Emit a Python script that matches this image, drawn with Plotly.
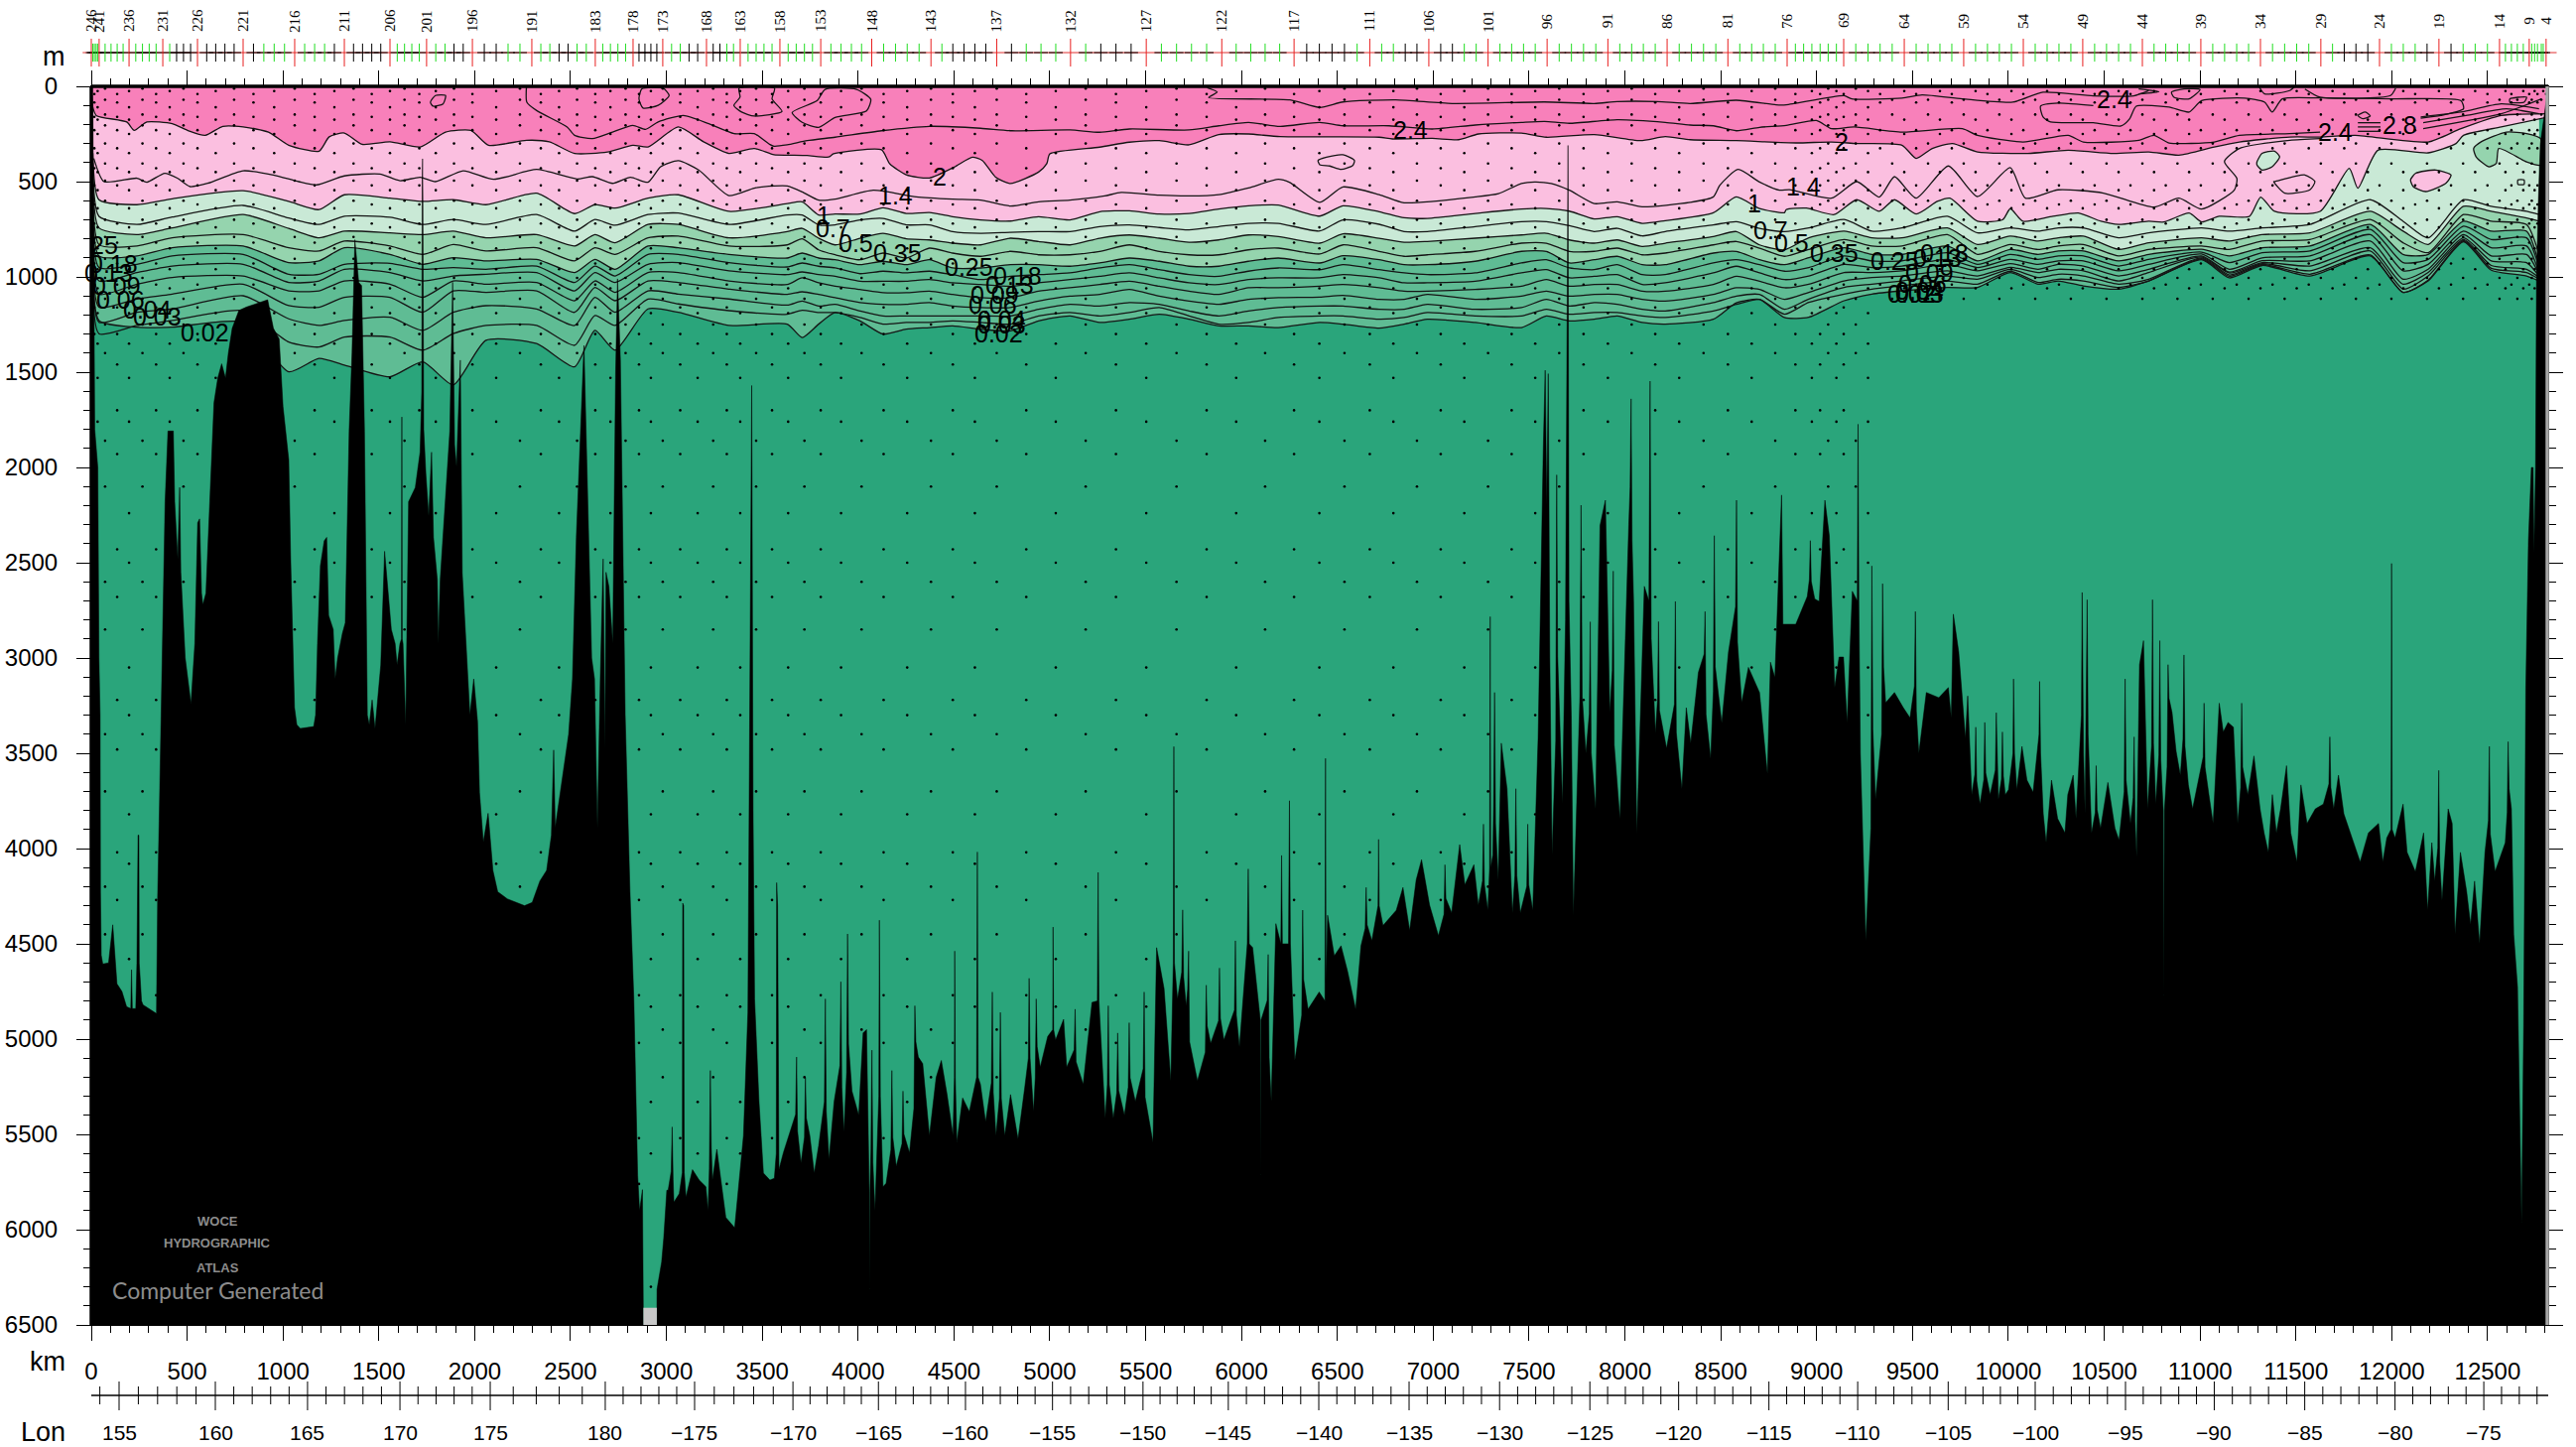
import numpy as np
import plotly.graph_objects as go

W, H = 2596, 1458
PX_L, PX_R, PX_T, PX_B = 92, 2568, 87, 1335
KM_MAX, DEPTH_MAX = 12816, 6500
PX_PER_KM = (PX_R - PX_L) / KM_MAX

C_BASE, C_DEEP, C_MID, C_PALE, C_LPINK, C_PINK = "#2AA57B", "#5FBC94", "#95D4AE", "#C9E9D6", "#FBBFE0", "#F880BA"
LINE_C = "#151515"

# ---------- bathymetry: (km, metres) ----------
BATHY_A = [(0,0),(8,100),(18,1800),(34,2000),(40,3000),(46,3300),(48,4230),(52,4560),(60,4606),(90,4600),(112,4400),(122,4560),(134,4710),(160,4750),(184,4830),(206,4840),(210,4636),(214,4840),(232,4840),(238,4600),(244,3930),(248,3930),(250,4600),(262,4800),(270,4820),(340,4866),(346,4260),(354,3855),(368,3070),(385,2180),(400,1809),(418,1809),(428,1809),(435,2180),(445,2400),(451,2480),(461,2105),(467,2550),(490,3000),(520,3240),(540,2925),(555,2290),(565,2270),(575,2660),(582,2720),(598,2660),(618,2180),(640,1660),(660,1530),(680,1456),(700,1530),(715,1400),(735,1270),(770,1176),(810,1158),(860,1140),(920,1120),(950,1270),(980,1325),(1000,1680),(1030,1960),(1040,2480),(1050,2925),(1060,3260),(1072,3350),(1090,3370),(1160,3360),(1170,3300),(1180,2925),(1195,2515),(1215,2385),(1228,2367),(1238,2776),(1262,2850),(1272,3110),(1285,3000),(1310,2870),(1325,2815),(1345,1809),(1360,1400),(1375,805),(1395,1028),(1410,1046),(1425,1809),(1440,3300),(1450,3350),(1465,3220),(1480,3370),(1490,3260),(1510,3037),(1530,2440),(1545,2630),(1565,2850),(1585,2925),(1595,3037),(1610,2925),(1618,2900),(1620,1735),(1622,2900),(1626,2925),(1640,3350),(1655,2180),(1690,2105),(1715,1920),(1724,1600),(1726,500),(1728,380),(1730,600),(1734,1800),(1745,2030),(1760,2255),(1775,1920),(1785,2367),(1805,2590),(1810,2925),(1820,2590),(1850,2105),(1870,1810),(1885,1028),(1895,1880),(1905,1995),(1925,1437),(1935,2553),(1955,2925),(1975,3300),(1995,3110),(2015,3335),(2025,3705),(2045,3965),(2070,3815),(2095,4115),(2120,4227),(2170,4264),(2260,4300),(2300,4283),(2340,4170),(2375,4115),(2400,3930),(2412,3483),(2420,3890),(2450,3670),(2490,3400),(2510,3110),(2530,2367),(2570,1360),(2590,2180),(2610,3000),(2625,3110),(2640,3890),(2655,3110),(2670,2480),(2680,3480),(2685,2550),(2700,2625),(2720,2925),(2735,1510),(2745,1010),(2760,1437),(2785,3300),(2810,4227),(2830,4785),(2850,5715),(2860,5900),(2875,5790),(2880,6500),(2950,6500),(2951,6313),(2975,6170),(2986,6044),(3002,5793)]
BATHY_B = [(3009,5793),(3030,5461),(3039,5856),(3067,5811),(3083,5700),(3085,4287),(3090,4300),(3093,5700),(3102,5829),(3136,5685),(3171,5740),(3206,5775),(3217,5900),(3229,5165),(3240,5740),(3263,5578),(3286,5740),(3310,5936),(3356,5990),(3379,5740),(3402,5506),(3425,4860),(3432,3800),(3445,1570),(3452,3800),(3460,4790),(3483,5327),(3506,5703),(3540,5740),(3563,5730),(3573,5600),(3575,4179),(3580,4300),(3587,5685),(3610,5596),(3633,5524),(3679,5094),(3702,5650),(3725,5201),(3748,5506),(3771,5703),(3794,5560),(3829,4789),(3848,5631),(3875,5327),(3910,4699),(3926,5488),(3945,4448),(3968,5273),(4003,5398),(4026,4968),(4044,4950),(4058,5800),(4060,6313),(4062,5800),(4072,5058),(4088,5900),(4108,5300),(4111,4376),(4116,5300),(4130,5775),(4146,5757),(4176,5165),(4199,5667),(4234,5273),(4268,5596),(4296,4825),(4314,5094),(4337,5129),(4372,5506),(4407,5201),(4434,5112),(4464,5291),(4495,5506),(4502,5200),(4504,4538),(4507,5200),(4515,5542),(4545,5309),(4580,5380),(4618,5200),(4622,4018),(4626,5200),(4638,5237),(4665,5434),(4700,4753),(4719,5506),(4742,4860),(4765,5506),(4795,5291),(4834,5524),(4869,5255),(4888,5100),(4892,4681),(4897,5100),(4915,5380),(4929,4789),(4950,5147),(4989,4986),(5015,4950),(5017,4412),(5020,4950),(5030,5004),(5072,4896),(5088,5147),(5132,4843),(5174,5237),(5220,4807),(5248,4800),(5252,4125),(5256,4800),(5289,5416),(5305,4825),(5331,5416),(5354,4968),(5389,5398),(5414,4914),(5446,5327),(5492,4753),(5538,5542),(5557,4520),(5596,4735),(5631,5219),(5644,4600),(5647,3465),(5650,4600),(5666,4789),(5693,4322),(5711,4825),(5724,4538),(5770,5219),(5816,4717),(5839,5022),(5885,4627),(5908,5004),(5968,4484),(5989,5040),(6030,4500),(6035,4107),(6040,4500),(6058,4520),(6098,4900),(6100,5721),(6102,4900),(6139,4556),(6155,5327),(6179,4394),(6205,4500),(6209,4036),(6213,4500),(6245,4500),(6250,3749),(6255,4500),(6278,5112),(6319,4323),(6347,4843),(6405,4753)]
BATHY_C = [(6435,4800),(6438,3527),(6441,4700),(6449,4350),(6484,4563),(6519,4510),(6553,4643),(6595,4842),(6623,4510),(6650,4204),(6680,4483),(6712,4300),(6715,3952),(6718,4300),(6738,4404),(6807,4324),(6842,4204),(6877,4430),(6911,4164),(6939,4058),(6981,4297),(7027,4457),(7061,4085),(7096,4337),(7138,3979),(7165,4190),(7212,4085),(7235,4297),(7262,3872),(7285,4324),(7294,4100),(7297,2783),(7300,4100),(7311,4032),(7320,3181),(7339,4164),(7355,3447),(7385,3686),(7413,4337),(7431,3686),(7454,4337),(7493,3872),(7519,4324),(7547,3421),(7574,1900),(7584,1490),(7592,2200),(7600,1508),(7608,3000),(7620,4032),(7644,2039),(7664,3400),(7674,3766),(7690,2800),(7703,310),(7708,2700),(7720,3300),(7731,4350),(7765,3200),(7771,2198),(7777,3200),(7796,3500),(7819,2810),(7847,3792),(7870,2305),(7898,2172),(7921,3288),(7939,2544),(7974,3846),(8020,2300),(8032,1640),(8045,2700),(8062,3925),(8101,2624),(8125,2700),(8131,1547),(8137,2900),(8159,3394),(8175,2809),(8217,3474),(8263,2703),(8297,3686),(8320,3261),(8343,3447),(8383,3075),(8418,2756),(8447,3527),(8466,2358),(8505,3341),(8540,2969),(8582,2172),(8609,3235),(8644,3049),(8702,3181),(8743,3607),(8759,3022),(8782,3102),(8817,2145),(8824,2823),(8891,2823),(8951,2677),(8967,2384),(8990,2690),(9013,2703),(9043,2172),(9066,2358),(9094,3155),(9117,2995),(9140,2995),(9159,3341),(9186,2650),(9212,2700),(9216,1773),(9220,2700),(9228,3500),(9256,4483),(9288,2517),(9307,3739),(9344,2610),(9360,3235),(9406,3181),(9452,3261),(9487,3314),(9515,2756),(9533,3500),(9572,3181),(9637,3208),(9687,3155),(9702,3314),(9713,2770),(9741,2969),(9776,3421)]
BATHY_D = [(9788,3199),(9809,3717),(9830,3363),(9852,3767),(9877,3338),(9905,3717),(9937,3287),(9948,3742),(9969,3388),(9984,3717),(10001,3691),(10024,3500),(10027,3110),(10032,3500),(10044,3691),(10071,3464),(10097,3641),(10129,3704),(10160,3400),(10163,3123),(10168,3500),(10182,3818),(10197,3969),(10225,3641),(10257,3843),(10295,3918),(10310,3717),(10338,3615),(10353,3843),(10381,3300),(10385,2656),(10392,3500),(10400,3818),(10411,2694),(10416,3400),(10434,3918),(10458,3565),(10481,3893),(10519,3653),(10556,3893),(10577,3956),(10609,3110),(10637,3868),(10656,3414),(10669,4045),(10684,3035),(10705,2909),(10726,3792),(10752,2694),(10769,3767),(10790,2909),(10808,3800),(10811,4777),(10814,3800),(10833,3035),(10854,3287),(10875,3489),(10897,3615),(10916,2984),(10939,3666),(10961,3792),(10993,3641),(11021,3237),(11046,3717),(11068,3868),(11100,3237),(11121,3388),(11146,3338),(11174,3363),(11196,3868),(11217,3237),(11249,3717),(11281,3514),(11313,3792),(11334,3918),(11356,4020),(11377,3717),(11398,3918),(11420,3792),(11451,3565),(11473,3918),(11505,4070),(11526,3666),(11558,3868),(11601,3792),(11643,3767),(11677,3414),(11697,3792),(11722,3615),(11750,3818),(11793,3944),(11835,4070),(11878,3918),(11931,3868),(11953,4070),(11974,3944),(11996,3900),(11999,2504),(12002,3900),(12017,3944),(12059,3767),(12080,4020),(12123,4121),(12166,3918),(12187,4323),(12209,3969),(12224,4171),(12245,3590),(12262,4272),(12294,3792),(12315,3868),(12330,4449),(12358,4020),(12390,4222),(12411,4398),(12432,4171),(12458,4499),(12486,4020),(12509,3464),(12539,4121),(12592,3969),(12607,3439),(12624,3792),(12636,4449),(12656,4727),(12667,5434),(12677,5964),(12688,4929),(12699,3161),(12713,2378),(12728,2000),(12737,2000),(12742,2449),(12750,2000),(12755,1000),(12765,590),(12775,300),(12816,0)]

# ---------- shared km nodes of the isolines ----------
KM_LEFT = [8,40,238,422,792,1030,1188,1320,1558,1729,1888,2059,2323,2521,2627,2732,2904,3062,3326]
KM_MID = [3630,3708,3794,3880,4010,4130,4251,4372,4493,4639,4794,4941,5105,5260,5415,5571,5726,5881,6036,6192]
KM_Z5 = [6408,6529,6718,6848,6969,7219,7460,7590,7710,7840,7960,8090,8210,8461,8581,8702,8832]
KM_RIGHT = [8959,9143,9288,9445,9682,9839,10010,10155,10260,10391,10575,10732,11008,11153,11324,11573,11888,12059,12190,12374,12519,12703,12768]
KM_DEEP = KM_LEFT + KM_MID + KM_Z5 + KM_RIGHT

D07 = [400,682,725,686,625,691,725,682,687,725,699,725,673,760,699,729,673,665,725,
       675,675,727,727,701,693,727,727,762,771,766,762,762,736,727,741,753,736,719,719,
       759,701,724,762,762,736,710,710,731,762,745,785,762,727,710,745,762,
       743,699,760,743,682,769,743,760,743,743,795,769,743,760,743,725,595,708,795,595,630,656,673]
D05 = [450,743,778,743,673,746,795,760,769,778,760,795,778,838,778,821,725,725,795,
       762,745,797,832,797,771,800,806,823,832,797,814,832,797,780,797,818,806,780,788,
       823,774,797,818,814,797,780,771,806,823,806,840,823,788,762,832,858,
       795,760,795,795,743,830,786,812,795,786,856,821,795,812,778,769,656,760,830,630,656,691,708]
D035 = [500,830,838,795,778,847,864,812,838,882,830,864,847,916,847,882,795,786,838,
        832,800,858,884,910,875,901,849,875,892,866,884,884,866,832,866,884,884,858,849,
        880,832,866,892,884,866,823,823,866,866,849,884,875,832,814,849,892,
        856,804,838,838,778,882,830,856,838,830,890,856,838,856,812,804,699,821,873,673,708,725,882]
D025 = [550,890,890,847,838,925,916,847,882,934,899,916,908,977,908,960,838,847,882,
        901,875,901,910,936,918,936,910,953,953,936,936,944,927,901,918,944,944,918,901,
        927,889,910,936,936,918,866,866,927,910,892,936,936,875,866,910,936,
        899,847,882,882,838,916,856,882,864,864,916,882,855,890,847,838,725,882,882,708,760,760,934]
D018 = [600,951,934,890,882,986,986,934,929,960,951,960,943,1029,943,995,882,882,925,
        948,927,944,953,983,970,979,970,988,1014,997,988,979,953,936,962,988,997,970,953,
        962,936,962,979,988,979,927,910,953,962,936,988,988,927,910,936,970,
        951,890,916,916,873,934,882,908,890,890,943,908,870,925,873,864,751,925,908,734,804,795,951]
D013 = [650,1021,977,943,934,1029,1021,960,977,1021,995,986,977,1073,977,1029,934,925,968,
        988,974,988,997,1023,1023,1023,1014,1031,1040,1049,1031,1014,997,979,1005,1031,1040,1014,1005,
        1005,988,1005,1031,1031,1023,979,962,1005,997,988,1040,1031,979,944,979,1014,
        995,934,951,943,908,951,908,934,916,916,968,934,880,960,900,890,778,968,934,760,847,838,977]
D009 = [700,1090,1038,1003,995,1073,1073,1021,1038,1107,1021,1038,1029,1125,1021,1081,977,977,1021,
        1040,1005,1031,1049,1066,1083,1083,1075,1092,1109,1109,1075,1057,1040,1023,1049,1075,1092,1057,1057,
        1049,1040,1057,1075,1075,1066,1049,1014,1049,1040,1040,1075,1075,1040,997,1023,1057,
        1038,977,977,968,934,968,930,960,934,943,995,960,890,975,915,916,812,1012,960,778,890,882,986]
D006 = [750,1159,1116,1090,1038,1151,1159,1107,1107,1186,1073,1081,1073,1186,1055,1125,1021,1029,1064,
        1092,1078,1092,1109,1135,1144,1144,1135,1153,1161,1161,1127,1101,1092,1066,1101,1127,1144,1118,1109,
        1106,1097,1118,1118,1092,1118,1101,1075,1101,1092,1092,1118,1127,1092,1057,1066,1118,
        1081,1021,1003,995,968,995,950,977,960,968,1021,977,895,980,925,943,847,1038,977,795,916,925,995]
D004 = [800,1238,1186,1168,1099,1220,1255,1229,1212,1281,1186,1151,1168,1255,1107,1186,1073,1090,1116,
        1148,1127,1153,1144,1179,1205,1205,1205,1205,1205,1205,1170,1144,1153,1135,1144,1179,1205,1179,1161,
        1153,1153,1170,1170,1144,1170,1161,1118,1153,1135,1144,1170,1179,1135,1101,1092,1170,
        1116,1055,1038,1021,995,1012,960,1003,986,995,1038,1012,900,990,930,968,864,1064,995,804,940,960,1003]
D003 = [850,1298,1255,1229,1177,1342,1368,1316,1316,1385,1298,1255,1255,1359,1203,1255,1116,1142,1177,
        1196,1175,1187,1187,1213,1248,1239,1239,1231,1239,1248,1205,1187,1205,1187,1161,1205,1248,1239,1213,
        1205,1205,1222,1213,1187,1205,1205,1170,1196,1187,1187,1205,1213,1179,1144,1118,1196,
        1134,1090,1064,1047,1021,1038,970,1029,1012,1021,1055,1021,905,997,935,986,885,1081,1017,810,955,977,1012]
D002 = [900,1229,1264,1264,1238,1498,1428,1463,1524,1446,1567,1333,1350,1472,1281,1385,1168,1186,1255,
        1248,1318,1248,1187,1231,1300,1274,1266,1257,1274,1283,1231,1205,1239,1222,1196,1222,1257,1257,1266,
        1239,1248,1269,1248,1222,1239,1266,1205,1231,1222,1205,1239,1248,1222,1136,1118,1213,
        1212,1125,1090,1073,1055,1055,977,1038,1021,1047,1064,1021,910,1005,940,995,890,1081,1021,815,965,995,1021]

D1_KM = KM_LEFT + KM_MID + KM_Z5 + [8841,8946,9091,9209,9327,9406,9519,9629,9695,9839,9971,10010,10076,10233,10365,10483,10575,10732,10811,10943,11008,11100,11258,11316,11389,11626,11778,11823,11928,12190,12335,12374,12571,12816]
D1 = [350,595,621,590,548,604,647,569,587,604,595,621,561,668,621,639,587,569,656,
      615,606,675,670,670,637,667,662,684,701,707,684,701,658,653,670,667,644,627,623,
      681,627,658,690,693,667,644,641,655,696,684,719,705,663,580,641,663,
      647,639,673,595,656,595,670,604,587,708,699,642,708,682,665,708,725,708,712,665,712,682,682,581,656,656,430,535,335,349,300,257,213,161]

D2_KM = [5,26,185,224,290,422,502,594,686,792,924,1030,1188,1241,1320,1412,1558,1716,1848,1980,2072,2270,2389,2521,2693,2825,2904,3062,3194,3326,3458,3561,3643,3734,3846,3872,4122,4165,4251,4372,4501,4596,4648,4717,4794,4941,4984,5000,5260,5415,5571,5726,5881,6036,6201,6718,6787,6995,7133,7236,7460,7590,7840,8081,8210,8340,8581,8892,9077,9209,9445,9519,9603,9708,9839,10102,10312,10549,10732,10890,11074,11205,11468,11626,11810,12190,12361,12571,12816]
D2 = [100,153,187,231,187,196,231,257,210,213,240,309,340,265,245,304,291,318,240,231,309,283,291,352,344,309,318,213,291,352,326,359,361,363,371,354,333,406,464,481,424,372,389,476,510,450,406,354,319,293,285,307,253,250,264,267,276,273,280,250,245,267,253,285,264,280,285,297,292,300,309,378,326,300,344,352,335,352,344,361,318,292,266,266,257,292,222,153,144]

D24_KM = [2270,2272,2323,2482,2521,2614,2719,2825,2891,2957,3089,3221,3353,3458,3538,3561,3630,3734,3880,4122,4372,4639,4803,5105,5260,5415,5726,5881,6036,6201,6408,6529,6770,6995,7219,7460,7581,7710,7960,8210,8340,8461,8581,8702,8841,8999,9077,9196,9445,9760,9839,10076,10312,10391,10680,10759,10838,11074,11205,11468,11626]
D24 = [0,83,127,213,257,274,240,205,226,187,153,196,248,248,304,314,307,285,267,233,210,220,233,229,241,224,229,207,189,210,189,207,207,224,203,189,184,194,175,189,203,207,233,215,205,179,222,213,240,222,257,292,257,292,283,257,297,292,257,248,240]

D14_KM = [13,66,238,290,383,449,515,607,792,950,1082,1175,1320,1505,1610,1716,1795,1940,2099,2323,2534,2614,2719,2812,2904,2970,3062,3168,3326,3458,3561,3630,3708,3794,3880,4079,4303,4493,4639,4794,4941,5105,5286,5372,5571,5726,5881,6036,6192,6252,6408,6529,6718,6848,7219,7340,7460,7529,7615,7710,7840,7960,8090,8340,8461,8495,8590,8702,8806,8858,9077,9209,9327,9406,9519,9687,9839,10010,10089,10260,10496,10759,10890,11008,11179,11192,11127,11205,11468,11626]
D14 = [378,500,482,503,456,482,526,509,443,465,500,517,470,460,495,477,500,443,488,436,486,474,509,477,503,422,390,439,573,534,523,523,554,597,592,545,580,592,597,628,606,597,575,557,571,575,568,533,488,505,609,528,568,611,580,563,510,502,510,545,615,606,632,609,580,519,436,502,545,542,587,500,581,474,587,418,578,427,587,543,560,634,587,644,543,483,395,326,283,274]

D28_KM = [5821,5873,5829,6252,6408,6529,6805,7098,7581,7840,7960,8168,8340,8581,8788,8841,9143,9183,9445,9550,9760,10023,10181,10443,10654,10732]
D28 = [7,30,59,71,111,82,71,90,82,90,80,80,90,73,97,97,49,66,62,45,66,83,31,50,50,23]

# closed or short extra isolines: (km list, metres list)
LOOP_1 = ([1769,1795,1848,1835,1782,1769],[83,48,48,92,104,83])
LOOP_2 = ([2857,2872,2983,3014,2957,2878,2857],[66,13,10,48,100,114,66])
LOOP_3 = ([3352,3384,3379,3564,3551,3603,3458,3392,3352],[100,57,10,10,66,132,156,135,100])
LOOP_4 = ([3656,3785,3828,3992,4066,4044,3880,3794,3708,3656],[137,76,16,16,68,129,163,215,189,137])
LOOP_5 = ([6399,6443,6529,6589,6580,6520,6460,6408,6399],[389,372,359,389,415,436,418,411,389])
LOOP_6 = ([11389,11547,11599,11573,11442,11384,11389],[500,465,500,543,561,500,500])
TONGUE = ([10443,10260,10168,10181,10220,10443,10588,10633,10667,10838,10943,11008,11232,11337,11376,11429,11626,11993,12361,12374,12256,12151],[101,88,104,161,187,191,208,170,104,109,135,75,62,83,135,66,61,66,75,118,153,167])
TOP_1 = ([10851,10916,11000,10943,10864,10851],[31,14,17,66,57,31])
TOP_2 = ([11310,11337,11468,11494],[5,40,22,0])
TOP_3 = ([11547,11626,11993,12020],[14,57,48,10])
TOP_4 = ([10680,10785,10680],[14,28,40])
SHORT_1 = ([11823,11941],[191,191])
SHORT_2 = ([11823,11941],[213,213])
SHORT_3 = ([11823,11941],[236,236])
ARROW = ([11823,11862,11888,11849,11823],[153,135,156,170,153])
RIGHT_1 = ([12151,12361,12571,12768],[161,135,92,118])
RIGHT_2 = ([12164,12387,12598,12768],[191,153,118,144])
RIGHT_3 = ([12164,12571,12781],[222,144,66])
FAR_1 = ([12616,12703,12690,12616,12616],[66,57,83,83,66])
FAR_2 = ([12658,12690,12690,12658,12658],[491,491,514,514,491])
EXTRA_LINES = [LOOP_1,LOOP_2,LOOP_3,LOOP_4,LOOP_5,LOOP_6,TONGUE,TOP_1,TOP_2,TOP_3,TOP_4,SHORT_1,SHORT_2,SHORT_3,ARROW,RIGHT_1,RIGHT_2,RIGHT_3,FAR_1,FAR_2]

ISLAND_PALE = ([11297,11323,11389,11415,11376,11323,11297,11297],[396,352,340,370,422,439,413,396])
ISLAND_PINK = ([12098,12125,12230,12309,12283,12177,12112,12098],[491,456,439,465,508,552,526,491])
ISLAND_MID = ([12427,12466,12598,12703,12776,12776,12703,12558,12545,12506,12440,12427],[326,291,240,248,274,413,396,326,404,422,370,326])

# ---------- contour labels ----------
LABELS = [("25",67,833),("0.18",119,932),("0.13",93,979),("0.09",130,1047),("0.06",155,1120),("0.04",290,1172),("0.03",342,1208),("0.02",595,1292),
          ("1",3820,675),("0.7",3868,745),("0.5",3989,823),("0.35",4208,875),("1.4",4196,571),("2",4424,476),("0.25",4579,948),("0.18",4834,997),("0.13",4789,1040),("0.09",4713,1092),("0.06",4700,1148),("0.04",4751,1222),("0.03",4751,1248),("0.02",4734,1297),
          ("2.4",6882,227),("1",8676,615),("0.7",8763,753),("0.5",8867,821),("0.35",9091,873),("1.4",8933,526),("2",9130,291),("0.25",9406,916),("0.18",9668,873),("0.13",9629,899),("0.09",9590,977),("0.06",9550,1038),("0.04",9537,1073),("0.03",9537,1090),("0.02",9498,1090),
          ("2.4",10549,66),("2.4",11704,239),("2.8",12041,201)]

# ---------- stations ----------
ST_LABELS = [246,241,236,231,226,221,216,211,206,201,196,191,183,178,173,168,163,158,153,148,143,137,132,127,122,117,111,106,101,96,91,86,81,76,69,64,59,54,49,44,39,34,29,24,19,14,9,4]
ST_LABEL_KM = [0,41,197,373,554,792,1061,1320,1558,1749,1988,2298,2629,2826,2981,3209,3385,3592,3805,4071,4380,4723,5108,5503,5897,6274,6669,6977,7286,7594,7911,8220,8537,8846,9141,9457,9767,10078,10388,10699,11004,11315,11630,11936,12246,12562,12717,12805]
ST_MID_KM = [8,16,25,33,72,103,135,166,232,267,302,338,409,445,481,518,602,649,697,745,846,900,954,1008,1113,1165,1217,1268,1368,1415,1463,1510,1596,1634,1672,1711,1797,1845,1892,1940,2050,2112,2174,2236,2345,2392,2440,2487,2534,2582,2668,2708,2747,2787,2857,2888,2919,2950,3027,3072,3118,3163,3244,3279,3315,3350,3426,3468,3509,3551,3635,3677,3720,3762,3858,3911,3965,4018,4133,4195,4256,4318,4437,4494,4552,4609,4666,4800,4877,4954,5031,5187,5266,5345,5424,5582,5661,5739,5818,5972,6048,6123,6199,6340,6406,6472,6537,6603,6731,6792,6854,6915,7039,7100,7162,7224,7348,7409,7471,7532,7657,7721,7784,7848,7973,8035,8096,8158,8283,8347,8410,8474,8599,8661,8722,8784,8889,8932,8975,9018,9060,9103,9204,9268,9331,9394,9519,9581,9643,9705,9829,9891,9953,10016,10140,10202,10264,10326,10450,10512,10575,10637,10760,10821,10882,10943,11066,11128,11191,11253,11378,11441,11504,11567,11691,11752,11813,11875,11998,12060,12122,12184,12309,12372,12435,12499,12593,12624,12655,12686,12730,12745,12760,12780,12790]
ST_BLACK_RANGES = [(422,528),(580,766),(845,898),(1267,1530),(1848,2165),(2414,2508),(2587,2640),(2798,2957),(3100,3300),(4450,4800),(5200,5450),(6300,6600),(6800,7100),(11700,11890),(12180,12190),(12300,12320)]

DOT_LEVELS_A = [12,70,148,205,300,405,495,600,700,790,905,1005,1115,1250,1400,1620,1860,2100,2360,2600,2850,3150,3400,3700,3950,4200,4450,4700,4950,5200,5450]
DOT_LEVELS_B = [25,110,175,250,350,450,545,640,740,850,960,1060,1190,1350,1530,1760,1990,2240,2500,2750,3050,3300,3550,3820,4080,4330,4580,4830,5080,5330,5600,5900,6300]
DOT_LEVELS_C = [40,85,160,230,325,430,520,620,720,820,930,1040,1160,1300,1460,1700,1930,2170,2430,2680,2950,3220,3480,3760,4020,4270,4520,4770,5020,5270,5520,5760,6150]

# ---------- longitude scale ----------
LON_VALUES = [155,160,165,170,175,180,185,190,195,200,205,210,215,220,225,230,235,240,245,250,255,260,265,270,275,280,285]
LON_TEXT = ["155","160","165","170","175","180","\u2212175","\u2212170","\u2212165","\u2212160","\u2212155","\u2212150","\u2212145","\u2212140","\u2212135","\u2212130","\u2212125","\u2212120","\u2212115","\u2212110","\u2212105","\u2212100","\u221295","\u221290","\u221285","\u221280","\u221275"]
LON_KM = [145,647,1128,1610,2081,2681,3147,3660,4106,4560,5014,5486,5931,6403,6874,7346,7817,8280,8751,9214,9686,10140,10611,11074,11546,12017,12480]
KM_TICKS = list(range(0, 13000, 500))
DEPTH_TICKS = list(range(0, 7000, 500))

SANS = "Liberation Sans"
fig = go.Figure()

def add_line(km, m, fill=None, fc=None, w=1.3, smooth=True, color=LINE_C):
    fig.add_trace(go.Scatter(x=km, y=m, mode="lines",
        line=dict(color=color, width=w, shape="spline" if smooth else "linear", smoothing=0.6),
        fill=fill, fillcolor=fc, hoverinfo="skip", showlegend=False))

# base water
fig.add_trace(go.Scatter(x=[0, KM_MAX], y=[DEPTH_MAX, DEPTH_MAX], mode="lines", line=dict(width=0, color=C_BASE),
                         fill="tozeroy", fillcolor=C_BASE, hoverinfo="skip", showlegend=False))
add_line(KM_DEEP, D002, "tozeroy", C_DEEP)
add_line(KM_DEEP, D025, "tozeroy", C_MID)
add_line(KM_DEEP, D05, "tozeroy", C_PALE)
add_line(D1_KM, D1, "tozeroy", C_LPINK)
add_line(D2_KM, D2, "tozeroy", C_PINK)
for series in (D07, D035, D018, D013, D009, D006, D004, D003):
    add_line(KM_DEEP, series)
add_line(D14_KM, D14)
add_line(D24_KM, D24)
add_line(D28_KM, D28)
add_line(*ISLAND_MID, "toself", C_MID)
add_line(*ISLAND_PALE, "toself", C_PALE)
add_line(*ISLAND_PINK, "toself", C_LPINK)
for km, m in EXTRA_LINES:
    add_line(km, m)

# bathymetry polygon
bathy = BATHY_A + BATHY_B + BATHY_C + BATHY_D
b_km = [p[0] for p in bathy]
b_m = [p[1] for p in bathy]

# sample stations
st_all = sorted(ST_LABEL_KM + ST_MID_KM)
dot_x, dot_y = [], []
for i, k in enumerate(st_all):
    if k > KM_MAX:
        continue
    if k < 9000 and i % 2:
        continue
    levels = (DOT_LEVELS_A, DOT_LEVELS_B, DOT_LEVELS_C)[i % 3]
    bottom = float(np.interp(k, b_km, b_m))
    for j, lev in enumerate(levels):
        if lev >= bottom - 30:
            continue
        if k >= 9300 and lev > 1150:
            continue
        if lev > 1500 and j % 3 == i % 3:
            continue
        if k >= 9300 and lev < 600 and j % 3 == i % 3:
            continue
        dot_x.append(k)
        dot_y.append(lev)
fig.add_trace(go.Scatter(x=dot_x, y=dot_y, mode="markers", marker=dict(color="black", size=2.6), hoverinfo="skip", showlegend=False))

# narrow the seamount needles: each peak keeps its read height and gets shoulders near its neighbours' level
needle_km, needle_m = [], []
for i, (k, m) in enumerate(zip(b_km, b_m)):
    if 3000 < k < 12650 and 0 < i < len(b_km) - 1:
        pk, pm, nk, nm = b_km[i - 1], b_m[i - 1], b_km[i + 1], b_m[i + 1]
        if m < pm - 250 and m < nm - 250 and k - pk > 8 and nk - k > 8:
            needle_km += [k - 5, k, k + 5]
            needle_m += [m + 0.7 * (pm - m), m, m + 0.7 * (nm - m)]
            continue
    needle_km.append(k)
    needle_m.append(m)

fig.add_trace(go.Scatter(x=needle_km + [KM_MAX, 0], y=needle_m + [DEPTH_MAX, DEPTH_MAX], mode="lines",
                         line=dict(color="black", width=0.5), fill="toself", fillcolor="black",
                         hoverinfo="skip", showlegend=False))

# ---------- page overlay axes: km across, page pixels down ----------
P = dict(xaxis="x3", yaxis="y3", hoverinfo="skip", showlegend=False)

# frame
fig.add_trace(go.Scatter(x=[0, 0, None, 0, KM_MAX], y=[PX_B, PX_T, None, PX_T, PX_T], mode="lines",
                         line=dict(color="black", width=3.5), **P))
fig.add_trace(go.Scatter(x=[KM_MAX - 5, KM_MAX - 5], y=[PX_T, PX_B], mode="lines", line=dict(color="#A8A8A8", width=3.5), **P))

# station strip
STRIP_Y = 53
fig.add_trace(go.Scatter(x=[-45, 12860], y=[STRIP_Y, STRIP_Y], mode="lines", line=dict(color="#E03030", width=1), **P))
mid_colors = ["black" if any(a <= k <= b for a, b in ST_BLACK_RANGES) else "#22DD22" for k in ST_MID_KM]
fig.add_trace(go.Scatter(x=ST_MID_KM, y=[STRIP_Y] * len(ST_MID_KM), mode="markers",
                         marker=dict(symbol="line-ew", size=10, line=dict(color="black", width=1)), **P))
fig.add_trace(go.Scatter(x=ST_MID_KM, y=[STRIP_Y] * len(ST_MID_KM), mode="markers",
                         marker=dict(symbol="line-ns", size=13, color=mid_colors, line=dict(color=mid_colors, width=1)), **P))
fig.add_trace(go.Scatter(x=ST_LABEL_KM, y=[STRIP_Y] * len(ST_LABEL_KM), mode="markers",
                         marker=dict(symbol="line-ns", size=20, line=dict(color="#E82020", width=1)), **P))

# longitude scale
lon_end = LON_KM[-1] + (LON_KM[-1] - LON_KM[-2]) * 3 / 5
lon_start = LON_KM[0] - (LON_KM[1] - LON_KM[0]) / 5
fig.add_trace(go.Scatter(x=[0, KM_MAX], y=[1406, 1406], mode="lines", line=dict(color="black", width=1.4), **P))
major_x, major_y, minor_x, minor_y = [], [], [], []
for k in LON_KM:
    major_x += [k, k, None]
    major_y += [1392, 1421, None]
all_lon = [LON_VALUES[0] - 1] + list(range(LON_VALUES[0], LON_VALUES[-1] + 4))
anchor_lon = [LON_VALUES[0] - 1] + LON_VALUES + [LON_VALUES[-1] + 3]
anchor_km = [lon_start] + LON_KM + [lon_end]
for lon in all_lon:
    if lon in LON_VALUES:
        continue
    k = float(np.interp(lon, anchor_lon, anchor_km))
    minor_x += [k, k, None]
    minor_y += [1397, 1415, None]
fig.add_trace(go.Scatter(x=major_x, y=major_y, mode="lines", line=dict(color="black", width=1), **P))
fig.add_trace(go.Scatter(x=minor_x, y=minor_y, mode="lines", line=dict(color="black", width=1), **P))

ann = []
for txt, k, m in LABELS:
    ann.append(dict(text=txt, x=k, y=m, xref="x", yref="y", showarrow=False, xanchor="center", yanchor="middle",
                    font=dict(family=SANS, size=25, color="black")))
for s, k in zip(ST_LABELS, ST_LABEL_KM):
    ann.append(dict(text=str(s), x=k, y=21, xref="x3", yref="y3", showarrow=False, textangle=-90, xanchor="center", yanchor="middle",
                    font=dict(family="Liberation Serif", size=15, color="black")))
for t, k in zip(LON_TEXT, LON_KM):
    ann.append(dict(text=t, x=k, y=1443, xref="x3", yref="y3", showarrow=False, xanchor="center", yanchor="middle",
                    font=dict(family=SANS, size=21, color="black")))
for t, px, py in [("m", 54, 57), ("km", 48, 1372), ("Lon", 43, 1443)]:
    ann.append(dict(text=t, x=px / W, y=1 - py / H, xref="paper", yref="paper", showarrow=False, xanchor="center", yanchor="middle",
                    font=dict(family=SANS, size=27, color="black")))
for t, py, sz, fam in [("<b>WOCE</b>", 1230, 13, SANS), ("<b>HYDROGRAPHIC</b>", 1252, 13, SANS), ("<b>ATLAS</b>", 1277, 13, SANS),
                       ("Computer Generated", 1300, 23, "Lato")]:
    ann.append(dict(text=t, x=219 / W, y=1 - py / H, xref="paper", yref="paper", showarrow=False, xanchor="center", yanchor="middle",
                    font=dict(family=fam, size=sz, color="#8C8C8C")))

axis_common = dict(showgrid=False, zeroline=False, showline=True, linecolor="black", linewidth=1, automargin=False,
                   ticks="outside", tickcolor="black", tickwidth=1.4, mirror="ticks", tickformat="d",
                   tickfont=dict(family=SANS, size=24, color="black"))
fig.update_layout(
    template="none",
    width=W, height=H, autosize=False, margin=dict(l=0, r=0, t=0, b=0),
    paper_bgcolor="white", plot_bgcolor="rgba(0,0,0,0)", showlegend=False,
    font=dict(family=SANS),
    annotations=ann,
    shapes=[dict(type="rect", xref="x", yref="y", x0=2880, x1=2950, y0=6410, y1=DEPTH_MAX,
                 fillcolor="#C8C8C8", line=dict(width=0), layer="above")],
    xaxis=dict(domain=[PX_L / W, PX_R / W], range=[0, KM_MAX], tickvals=KM_TICKS, ticklen=15, ticklabelstandoff=10,
               minor=dict(dtick=100, tick0=0, ticklen=7, ticks="outside", tickcolor="black", tickwidth=1), **axis_common),
    yaxis=dict(domain=[1 - PX_B / H, 1 - PX_T / H], range=[DEPTH_MAX, 0], tickvals=DEPTH_TICKS, ticklen=14, ticklabelstandoff=14,
               minor=dict(dtick=100, tick0=0, ticklen=7, ticks="outside", tickcolor="black", tickwidth=1), **axis_common),
    xaxis3=dict(domain=[0, 1], range=[-PX_L / PX_PER_KM, (W - PX_L) / PX_PER_KM], visible=False, anchor="y3", fixedrange=True, automargin=False),
    yaxis3=dict(domain=[0, 1], range=[H, 0], visible=False, anchor="x3", fixedrange=True, automargin=False),
)
fig.write_html("out.html", config={"displayModeBar": False}, post_script="document.body.style.margin='0';")
